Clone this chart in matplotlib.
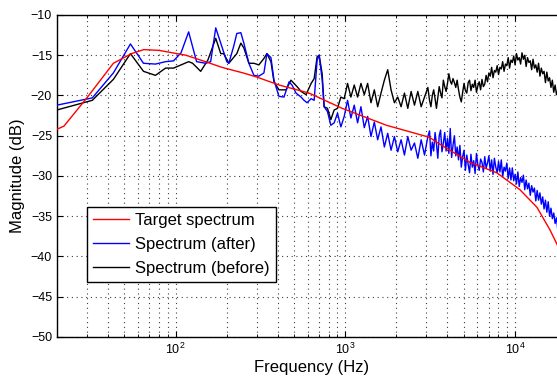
import numpy as np
import matplotlib
matplotlib.use('Agg')
from matplotlib import pyplot as plt
from matplotlib.ticker import LogLocator, MultipleLocator, NullFormatter

plt.rcParams['font.family'] = ['Liberation Sans', 'DejaVu Sans']
plt.rcParams['mathtext.fontset'] = 'custom'
plt.rcParams['mathtext.rm'] = 'Liberation Sans'

# target spectrum (smooth)
target_f = [20, 22, 30, 43, 55, 65, 80, 115, 150, 187, 250, 300, 407, 612, 960,
            1750, 3140, 3455, 5420, 7820, 10700, 13500, 16100, 18000, 20000]
target_db = [-24.2, -23.8, -20.3, -16.0, -14.8, -14.3, -14.4, -15.0, -15.8, -16.5,
             -17.2, -17.7, -18.7, -19.7, -21.6, -23.7, -25.2, -25.8, -28.3, -29.6,
             -31.7, -33.9, -36.7, -38.8, -40.5]

# spectrum after, low band
after_f_low = [20, 32.3, 43.0, 54.2, 64.7, 76.1, 87.3, 97.3, 107.7, 119.4,
               133, 150.6, 161, 172.5, 184.6, 200.4, 206, 220, 229.6, 242.5,
               252.6, 270.5, 289.5, 309.6, 331.7, 345.4, 364.9, 380.2, 406.5, 435.5,
               466.6, 485.3, 512.9, 549.5, 571.7, 595.9, 629.5, 656, 682.7, 701.8,
               731]
after_db_low = [-21.2, -20.3, -17.2, -13.6, -16.0, -16.1, -15.8, -15.7, -14.7, -12.1,
                -15.8, -16.0, -15.8, -11.6, -13.5, -15.8, -16.0, -13.9, -12.3, -12.2,
                -13.5, -16.0, -17.5, -17.6, -17.2, -14.8, -15.3, -18.1, -20.1, -20.2,
                -18.3, -18.7, -19.7, -20.2, -20.6, -20.9, -20.4, -20.6, -15.6, -15.0,
                -18.0]
# 751 Hz .. 3069 Hz
after_db_mid = [-21.4, -22.0, -23.7, -23.4, -22.2, -23.9, -22.6, -20.6, -22.8, -21.2,
                -23.4, -21.4, -24.0, -22.6, -25.1, -23.3, -25.5, -23.9, -26.4, -24.7,
                -26.8, -25.1, -27.0, -25.5, -27.4, -25.1, -26.8, -25.9, -27.8, -25.5,
                -27.4, -25.1]
# 3140 Hz .. 20050 Hz
after_db_high = [-24.4, -27.5, -25.8, -26.9, -24.6, -26.0, -27.8, -25.0, -24.3, -27.0,
                 -25.9, -24.6, -26.9, -25.3, -27.2, -24.1, -27.7, -26.2, -25.0, -27.5,
                 -26.4, -28.0, -26.2, -28.9, -27.6, -26.8, -29.3, -27.4, -28.6, -29.6,
                 -27.3, -28.9, -28.1, -29.7, -27.2, -28.6, -29.3, -27.9, -28.3, -29.5,
                 -27.6, -29.0, -28.4, -27.5, -29.4, -28.0, -29.8, -27.8, -28.9, -29.6,
                 -28.2, -29.5, -28.0, -30.1, -28.9, -29.4, -28.4, -30.3, -29.0, -30.5,
                 -29.0, -30.6, -29.8, -31.0, -29.5, -31.3, -30.2, -30.8, -29.9, -31.7,
                 -30.5, -31.6, -30.9, -32.4, -31.2, -32.0, -31.5, -33.1, -31.8, -33.0,
                 -32.1, -33.5, -32.6, -34.1, -33.0, -34.5, -33.2, -35.0, -34.0, -35.3,
                 -34.6, -35.9, -35.2, -36.8, -35.4, -37.2, -36.6, -37.6, -37.1, -38.6]

# spectrum before, low band
before_f_low = [20, 32.3, 43.0, 54.2, 64.7, 76.1, 87.3, 97.3, 107.7, 119.4,
                126, 140.6, 155, 172.5, 184.6, 192, 206, 229.6, 242.5, 252.6,
                270.5, 289.5, 309.6, 331.7, 345.4, 364.9, 380.2, 406.5, 447.7, 478.6,
                499, 520, 549.5, 587.6, 629.5, 656, 682.7, 701.8, 731]
before_db_low = [-21.8, -20.6, -18.0, -14.8, -17.0, -17.5, -16.6, -16.6, -16.2, -15.8,
                 -16.0, -17.0, -15.6, -12.9, -14.8, -14.8, -16.0, -14.8, -13.5, -14.1,
                 -16.0, -16.0, -16.2, -15.4, -14.8, -15.8, -18.3, -19.3, -19.3, -18.1,
                 -18.5, -18.9, -19.5, -19.9, -18.5, -17.9, -15.2, -15.0, -17.3]
before_db_mid = [-21.4, -21.6, -23.0, -21.8, -21.6, -20.2, -20.4, -18.5, -20.2, -18.7,
                 -20.2, -18.5, -19.9, -18.5, -20.9, -19.3, -21.4, -19.7, -18.1, -16.8,
                 -19.3, -20.9, -20.2, -21.4, -19.7, -21.6, -19.5, -21.2, -19.5, -21.4,
                 -20.2, -19.0]
before_db_high = [-20.6, -21.4, -20.0, -19.3, -20.4, -21.6, -20.2, -18.9, -19.7, -20.3,
                  -18.1, -18.9, -19.5, -18.5, -17.3, -18.2, -18.6, -17.9, -18.4, -19.0,
                  -18.1, -19.3, -20.2, -20.8, -19.6, -18.5, -19.4, -19.7, -18.4, -18.1,
                  -19.4, -18.6, -19.0, -18.1, -19.6, -18.8, -18.3, -19.3, -18.0, -18.9,
                  -18.6, -17.5, -18.3, -17.2, -17.6, -16.5, -17.8, -16.9, -17.1, -16.3,
                  -17.4, -16.5, -16.7, -15.8, -17.0, -16.1, -16.3, -15.3, -16.6, -15.6,
                  -15.9, -15.1, -16.2, -14.8, -15.6, -15.3, -16.1, -14.7, -15.5, -15.0,
                  -16.4, -15.3, -15.9, -15.7, -16.8, -15.5, -16.6, -16.2, -17.1, -16.0,
                  -17.6, -16.6, -17.3, -17.0, -18.4, -17.1, -18.2, -17.8, -19.0, -18.1,
                  -19.6, -18.7, -19.9, -19.3, -20.8, -19.5, -20.6, -20.3, -21.5, -20.7]

mid_band = (751, 3069)
high_band = (3140, 20050)


def spectrum(f_low, db_low, db_mid, db_high):
    f = np.concatenate([f_low,
                        np.geomspace(*mid_band, len(db_mid)),
                        np.geomspace(*high_band, len(db_high))])
    return f, np.concatenate([db_low, db_mid, db_high])


after_f, after_db = spectrum(after_f_low, after_db_low, after_db_mid, after_db_high)
before_f, before_db = spectrum(before_f_low, before_db_low, before_db_mid, before_db_high)

fig = plt.figure(figsize=(5.57, 3.8), dpi=100)
ax = fig.add_axes([0.1023, 0.1132, 0.9138, 0.8474])

ax.semilogx(target_f, target_db, color='#ff0000', lw=1.0, label='Target spectrum', zorder=5)
ax.semilogx(after_f, after_db, color='#0000ff', lw=1.0, label='Spectrum (after)', zorder=4)
ax.semilogx(before_f, before_db, color='k', lw=1.0, label='Spectrum (before)', zorder=3)

ax.set_xlim(20, 20000)
ax.set_ylim(-50, -10)
ax.yaxis.set_major_locator(MultipleLocator(5))
ax.xaxis.set_major_locator(LogLocator(base=10))
ax.xaxis.set_minor_locator(LogLocator(base=10, subs=np.arange(2, 10)))
ax.xaxis.set_minor_formatter(NullFormatter())

grid_style = dict(ls=(0, (1, 3.3)), color='0.25', lw=0.8)
ax.grid(True, which='major', **grid_style)
ax.xaxis.grid(True, which='minor', **grid_style)
ax.set_axisbelow(True)

ax.tick_params(which='both', direction='in', top=True, right=True, labelsize=9)
ax.tick_params(which='major', length=4)
ax.tick_params(which='minor', length=2)
for s in ax.spines.values():
    s.set_linewidth(1.0)

ax.set_xlabel('Frequency (Hz)', fontsize=12, labelpad=2)
ax.set_ylabel('Magnitude (dB)', fontsize=12, labelpad=4)

leg = ax.legend(loc='lower left', bbox_to_anchor=(0.059, 0.171), borderaxespad=0,
                fontsize=12, fancybox=False, framealpha=1, edgecolor='k',
                handlelength=2.15, handletextpad=0.4, labelspacing=0.55, borderpad=0.35)
leg.get_frame().set_linewidth(1.0)

fig.savefig('out.png', dpi=100)
